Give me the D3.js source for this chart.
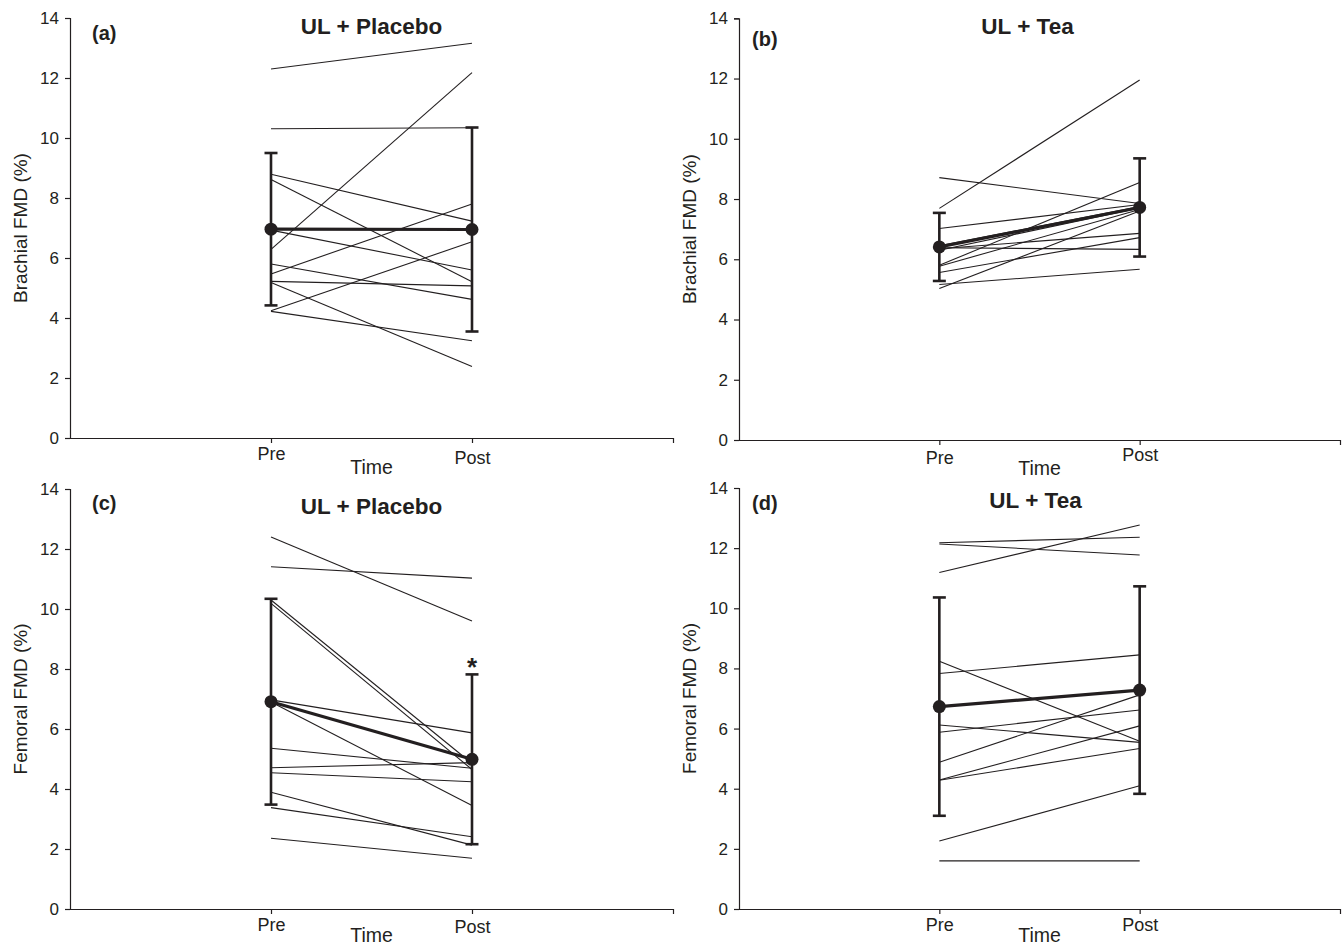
<!DOCTYPE html>
<html>
<head>
<meta charset="utf-8">
<script src="https://cdn.jsdelivr.net/npm/d3@7"></script>
<style>
  html, body { margin: 0; padding: 0; background: #fff; }
  svg { display: block; font-family: "Liberation Sans", Arial, Helvetica, sans-serif; }
</style>
</head>
<body>
<svg id="chart" width="1344" height="946"></svg>
<script>
// ---------- data ----------
const timeLabels = ["Pre", "Post"];
const yTickValues = [0, 2, 4, 6, 8, 10, 12, 14];
const panelLetters = ["(a)", "(b)", "(c)", "(d)"];
const panelTitles = ["UL + Placebo", "UL + Tea", "UL + Placebo", "UL + Tea"];
const yAxisLabels = ["Brachial FMD (%)", "Brachial FMD (%)", "Femoral FMD (%)", "Femoral FMD (%)"];
const xAxisLabel = "Time";

// individual participants (Pre, Post)
const preA  = [12.30, 6.29, 10.31, 8.79, 8.62, 6.93, 5.80, 5.47, 5.22, 5.18, 4.24, 4.22];
const postA = [13.16, 12.18, 10.34, 7.23, 5.21, 5.60, 4.62, 7.80, 5.07, 2.38, 6.54, 3.24];

const preB  = [7.69, 8.71, 7.02, 6.38, 6.35, 6.45, 5.80, 5.77, 5.56, 5.16, 5.03, 6.30];
const postB = [11.95, 7.85, 7.82, 6.33, 6.86, 7.75, 8.55, 7.65, 6.72, 5.67, 7.60, 7.70];

const preC  = [12.40, 11.41, 10.30, 10.19, 6.97, 6.90, 5.36, 4.71, 4.54, 3.89, 3.38, 2.36];
const postC = [9.60, 11.03, 4.85, 4.65, 5.87, 3.45, 4.69, 4.88, 4.24, 2.13, 2.41, 1.69];

const preD  = [12.18, 12.14, 11.19, 8.24, 7.83, 6.12, 5.88, 4.88, 4.29, 4.28, 2.26, 1.60];
const postD = [12.36, 11.77, 12.77, 5.58, 8.45, 5.54, 6.62, 7.12, 6.09, 5.34, 4.10, 1.60];

// group means and SD (Pre, Post)
const meanA = [6.96, 6.95], sdA = [2.54, 3.40];
const meanB = [6.41, 7.72], sdB = [1.13, 1.63];
const meanC = [6.91, 4.99], sdC = [3.43, 2.83];
const meanD = [6.73, 7.28], sdD = [3.63, 3.45];

const significant = [null, null, "*", null]; // mark on Post

const preAll = [preA, preB, preC, preD];
const postAll = [postA, postB, postC, postD];
const meanAll = [meanA, meanB, meanC, meanD];
const sdAll = [sdA, sdB, sdC, sdD];

// ---------- layout ----------
const layout = [
  { left: 70,  right: 673,  top: 18,   bottom: 438, ylabX: 20,  preDy: 0, postDy: 4,  timeY: 474,
    letterDx: 22, letterDy: 22, titleDx: 0,   titleDy: 16 },
  { left: 739, right: 1340, top: 18.3, bottom: 440, ylabX: 689, preDy: 2, postDy: -1, timeY: 475,
    letterDx: 13, letterDy: 28, titleDx: -12, titleDy: 16 },
  { left: 70,  right: 673,  top: 489,  bottom: 909, ylabX: 20,  preDy: 0, postDy: 2,  timeY: 942,
    letterDx: 22, letterDy: 21, titleDx: 0,   titleDy: 25 },
  { left: 739, right: 1340, top: 488,  bottom: 909, ylabX: 689, preDy: 0, postDy: 0,  timeY: 942,
    letterDx: 13, letterDy: 22, titleDx: -4,  titleDy: 20 }
];
const ink = "#231f20";
const fontFam = '"Liberation Sans", Arial, sans-serif';

const svg = d3.select("#chart");

layout.forEach((L, i) => {
  const g = svg.append("g");
  const x = d3.scaleLinear().domain([0, 3]).range([L.left, L.right]);
  const y = d3.scaleLinear().domain([0, 14]).range([L.bottom, L.top]);
  const xPos = t => x(t + 1);

  // y axis
  const yAxis = d3.axisLeft(y).tickValues(yTickValues).tickSize(5).tickSizeOuter(5).tickPadding(6);
  const ya = g.append("g").attr("transform", `translate(${L.left},0)`).call(yAxis);
  ya.selectAll("path, line").attr("stroke", ink).attr("stroke-width", 1.2);
  ya.selectAll("text").attr("fill", ink).attr("font-size", 17).attr("font-family", fontFam);

  // x axis
  const xAxis = d3.axisBottom(x).tickValues([1, 2, 3])
    .tickFormat(d => d === 1 ? timeLabels[0] : d === 2 ? timeLabels[1] : "")
    .tickSize(5).tickSizeOuter(0).tickPadding(4);
  const xa = g.append("g").attr("transform", `translate(0,${L.bottom})`).call(xAxis);
  xa.selectAll("path, line").attr("stroke", ink).attr("stroke-width", 1.2);
  xa.selectAll("text").attr("fill", ink).attr("font-size", 18).attr("font-family", fontFam)
    .attr("dy", d => d === 2 ? (0.71 + L.postDy / 18) + "em" : (0.71 + L.preDy / 18) + "em");

  // axis titles
  g.append("text")
    .attr("x", (xPos(0) + xPos(1)) / 2)
    .attr("y", L.timeY)
    .attr("text-anchor", "middle")
    .attr("font-size", 19.5).attr("fill", ink)
    .text(xAxisLabel);

  g.append("text")
    .attr("transform", `translate(${L.ylabX},${(L.top + L.bottom) / 2}) rotate(-90)`)
    .attr("text-anchor", "middle")
    .attr("dy", "0.35em")
    .attr("font-size", 19).attr("fill", ink)
    .text(yAxisLabels[i]);

  // panel letter & title
  g.append("text")
    .attr("x", L.left + L.letterDx).attr("y", L.top + L.letterDy)
    .attr("font-size", 20).attr("font-weight", "bold").attr("fill", ink)
    .text(panelLetters[i]);
  g.append("text")
    .attr("x", (xPos(0) + xPos(1)) / 2 + L.titleDx).attr("y", L.top + L.titleDy)
    .attr("text-anchor", "middle")
    .attr("font-size", 22.5).attr("font-weight", "bold").attr("fill", ink)
    .text(panelTitles[i]);

  // individual lines
  const pre = preAll[i], post = postAll[i];
  const pairs = pre.map((v, k) => [v, post[k]]);
  const line = d3.line().x((d, t) => xPos(t)).y(d => y(d));
  g.append("g").selectAll("path").data(pairs).join("path")
    .attr("d", d => line(d))
    .attr("fill", "none").attr("stroke", ink).attr("stroke-width", 1.1);

  // error bars
  const m = meanAll[i], s = sdAll[i];
  const eb = g.append("g");
  [0, 1].forEach(t => {
    const cx = xPos(t);
    eb.append("line").attr("x1", cx).attr("x2", cx)
      .attr("y1", y(m[t] + s[t])).attr("y2", y(m[t] - s[t]))
      .attr("stroke", ink).attr("stroke-width", 2.6);
    [m[t] + s[t], m[t] - s[t]].forEach(v => {
      eb.append("line").attr("x1", cx - 6.5).attr("x2", cx + 6.5)
        .attr("y1", y(v)).attr("y2", y(v))
        .attr("stroke", ink).attr("stroke-width", 2.6);
    });
  });

  // mean line and points
  g.append("path").attr("d", line(m))
    .attr("fill", "none").attr("stroke", ink).attr("stroke-width", 3.2);
  g.append("g").selectAll("circle").data(m).join("circle")
    .attr("cx", (d, t) => xPos(t)).attr("cy", d => y(d)).attr("r", 6.5)
    .attr("fill", ink);

  if (significant[i]) {
    g.append("text")
      .attr("x", xPos(1)).attr("y", y(m[1] + s[1]) + 2)
      .attr("text-anchor", "middle")
      .attr("font-size", 26).attr("font-weight", "bold").attr("fill", ink)
      .text(significant[i]);
  }
});
</script>
</body>
</html>
